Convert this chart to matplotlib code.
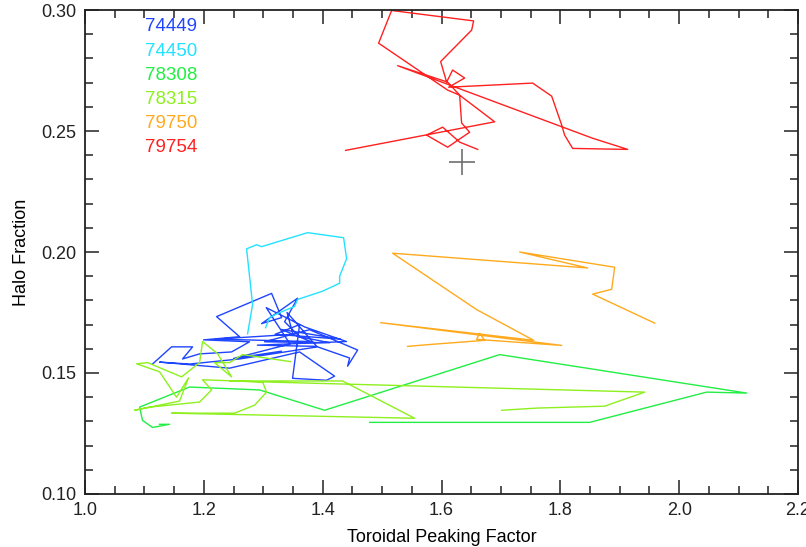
import matplotlib
matplotlib.use("Agg")
import matplotlib.pyplot as plt
from matplotlib.ticker import MultipleLocator

plt.rcParams['font.family'] = ['Liberation Sans', 'DejaVu Sans']

# shot numbers and their colours
shots = ["74449", "74450", "78308", "78315", "79750", "79754"]
colors = ["#1f45ff", "#22e2ff", "#22ee44", "#8ef01e", "#ffaa1e", "#ff2020"]

# toroidal peaking factor / halo fraction traces
x_74449 = [1.1136, 1.1456, 1.1810, 1.1641, 1.1928, 1.2466, 1.2769, 1.1995, 1.2601, 1.2214,
           1.3140, 1.3308, 1.2971, 1.3577, 1.3359, 1.3611, 1.4116, 1.3022, 1.3779, 1.4588,
           1.4419, 1.4453, 1.3914, 1.2601, 1.1759, 1.1254, 1.2433, 1.3611, 1.4200, 1.4066,
           1.3493, 1.3611, 1.3200, 1.4300, 1.3300, 1.3800, 1.2200, 1.3500, 1.3400, 1.3900,
           1.2900, 1.4400, 1.3700, 1.3050, 1.3450, 1.2500, 1.3300]
y_74449 = [0.1537, 0.1608, 0.1608, 0.1558, 0.1579, 0.1587, 0.1629, 0.1637, 0.1650, 0.1733,
           0.1829, 0.1729, 0.1704, 0.1809, 0.1712, 0.1650, 0.1625, 0.1629, 0.1679, 0.1595,
           0.1528, 0.1562, 0.1608, 0.1558, 0.1537, 0.1545, 0.1520, 0.1587, 0.1487, 0.1470,
           0.1478, 0.1700, 0.1660, 0.1640, 0.1680, 0.1630, 0.1640, 0.1660, 0.1750, 0.1610,
           0.1615, 0.1630, 0.1690, 0.1770, 0.1620, 0.1560, 0.1590]

x_74450 = [1.2736, 1.2820, 1.2719, 1.2887, 1.2971, 1.3746, 1.4352, 1.4402, 1.4285, 1.4285,
           1.3998, 1.3577, 1.3527, 1.3241, 1.3106, 1.3039]
y_74450 = [0.1662, 0.1783, 0.2013, 0.2030, 0.2022, 0.2080, 0.2059, 0.1972, 0.1900, 0.1871,
           0.1838, 0.1804, 0.1775, 0.1746, 0.1729, 0.1687]

x_78308 = [1.4790, 1.8493, 2.0463, 2.1136, 1.6978, 1.4032, 1.2938, 1.1759, 1.0918, 1.0968,
           1.1136, 1.1423, 1.1254]
y_78308 = [0.1296, 0.1296, 0.1421, 0.1417, 0.1576, 0.1346, 0.1430, 0.1442, 0.1359, 0.1304,
           0.1275, 0.1288, 0.1288]

x_78315 = [1.3460, 1.2652, 1.2433, 1.2180, 1.2466, 1.2231, 1.1978, 1.1928, 1.1625, 1.1052,
           1.0867, 1.1254, 1.1540, 1.1742, 1.1591, 1.0833, 1.1086, 1.1928, 1.2130, 1.1978,
           1.2988, 1.3056, 1.2854, 1.2517, 1.1456, 1.5547, 1.4335, 1.2433, 1.9419, 1.8746,
           1.7601, 1.7012]
y_78315 = [0.1547, 0.1576, 0.1543, 0.1543, 0.1484, 0.1580, 0.1630, 0.1543, 0.1484, 0.1543,
           0.1538, 0.1505, 0.1400, 0.1480, 0.1384, 0.1346, 0.1359, 0.1380, 0.1430, 0.1472,
           0.1463, 0.1421, 0.1367, 0.1334, 0.1334, 0.1313, 0.1467, 0.1467, 0.1421, 0.1363,
           0.1355, 0.1346]

x_79750 = [1.5429, 1.5816, 1.6726, 1.6641, 1.6591, 1.8022, 1.4975, 1.7551, 1.6591, 1.5177,
           1.8460, 1.7315, 1.8914, 1.8864, 1.8544, 1.9588]
y_79750 = [0.1610, 0.1618, 0.1635, 0.1664, 0.1639, 0.1614, 0.1708, 0.1635, 0.1762, 0.1995,
           0.1934, 0.2000, 0.1937, 0.1846, 0.1826, 0.1706]

x_79754 = [1.4386, 1.6894, 1.6305, 1.6103, 1.4941, 1.5160, 1.6540, 1.6507, 1.5985, 1.6086,
           1.6187, 1.6389, 1.6120, 1.7534, 1.7854, 1.8022, 1.8072, 1.8207, 1.9133, 1.8544,
           1.5261, 1.6103, 1.6305, 1.6338, 1.6473, 1.6103, 1.5749, 1.6019, 1.6305, 1.6608]
y_79754 = [0.2420, 0.2538, 0.2648, 0.2669, 0.2863, 0.2998, 0.2955, 0.2917, 0.2787, 0.2702,
           0.2752, 0.2719, 0.2681, 0.2698, 0.2644, 0.2525, 0.2483, 0.2428, 0.2424, 0.2470,
           0.2770, 0.2702, 0.2648, 0.2533, 0.2495, 0.2433, 0.2483, 0.2516, 0.2454, 0.2424]

# reference point (cross)
x_mark = [1.635]
y_mark = [0.2372]

xs = [x_74449, x_74450, x_78308, x_78315, x_79750, x_79754]
ys = [y_74449, y_74450, y_78308, y_78315, y_79750, y_79754]

fig = plt.figure(figsize=(8.06, 5.47), dpi=100)
ax = fig.add_axes([0.1055, 0.0969, 0.8846, 0.8848])

for x, y, c in zip(xs, ys, colors):
    ax.plot(x, y, color=c, lw=1.0)

ax.plot(x_mark, y_mark, marker='+', color='#707070', markersize=19, mew=1.2, ls='none')

for i, (s, c) in enumerate(zip(shots, colors)):
    ax.text(0.084, 0.965 - i * 0.05, s, color=c, fontsize=13.5,
            transform=ax.transAxes, va='center', ha='left')

ax.set_xlim(1.0, 2.2)
ax.set_ylim(0.10, 0.30)
ax.xaxis.set_major_locator(MultipleLocator(0.2))
ax.xaxis.set_minor_locator(MultipleLocator(0.05))
ax.yaxis.set_major_locator(MultipleLocator(0.05))
ax.yaxis.set_minor_locator(MultipleLocator(0.01))
ax.xaxis.set_major_formatter(plt.FormatStrFormatter('%.1f'))
ax.yaxis.set_major_formatter(plt.FormatStrFormatter('%.2f'))
ax.tick_params(which='both', direction='in', top=True, right=True, width=1.1,
               labelsize=13, colors='#222222')
ax.tick_params(which='major', length=10, pad=6)
ax.tick_params(which='minor', length=6)
for sp in ax.spines.values():
    sp.set_linewidth(1.3)
    sp.set_color('#222222')

ax.set_xlabel("Toroidal Peaking Factor", fontsize=13, labelpad=7)
ax.set_ylabel("Halo Fraction", fontsize=13, labelpad=8)

fig.savefig("out.png", dpi=100)
